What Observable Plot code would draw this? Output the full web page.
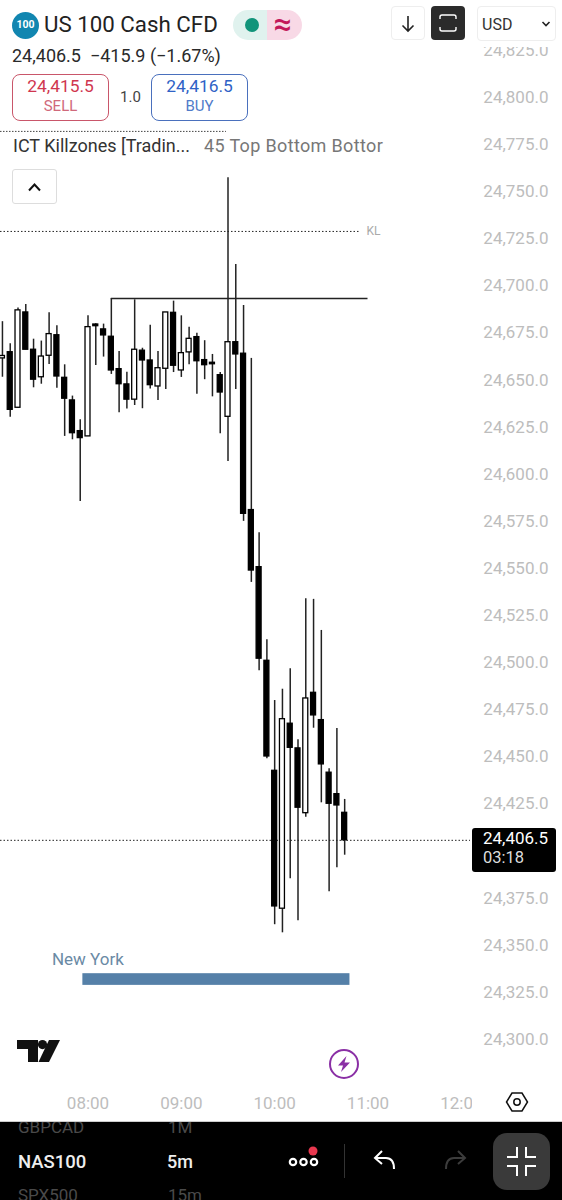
<!DOCTYPE html>
<html>
<head>
<meta charset="utf-8">
<script src="https://cdn.jsdelivr.net/npm/d3@7"></script>
<script src="https://cdn.jsdelivr.net/npm/@observablehq/plot@0.6"></script>
<style>
html,body{margin:0;padding:0;background:#fff}
#page{position:relative;width:562px;height:1200px;overflow:hidden;font-family:Roboto,sans-serif;background:#fff}
#chart{position:absolute;left:0;top:0;width:562px;height:1200px}
#chart svg{display:block}
.a{position:absolute;white-space:nowrap;line-height:1}
.box{position:absolute;box-sizing:border-box}
.c{text-align:center}
</style>
</head>
<body>
<div id="page">
<div id="chart"></div>

<!-- header -->
<div class="box" style="left:0;top:0;width:562px;height:47px;background:#fff"></div>
<div class="box" style="left:12px;top:12px;width:27px;height:27px;border-radius:50%;background:#1186b0"></div>
<div class="a c" style="left:12px;top:20px;width:27px;color:#fff;font-size:10.5px;font-weight:700">100</div>
<div class="a" style="left:44px;top:13px;font-size:22.3px;color:#222">US 100 Cash CFD</div>
<div class="box" style="left:233px;top:10px;width:34px;height:30px;background:#e0f2ee;border-radius:15px 0 0 15px"></div>
<div class="box" style="left:267px;top:10px;width:35px;height:30px;background:#f8d9e6;border-radius:0 15px 15px 0"></div>
<div class="box" style="left:245px;top:18px;width:14px;height:14px;border-radius:50%;background:#11947a"></div>
<div class="a c" style="left:267px;top:8px;width:32px;font-size:32px;color:#c2185b;font-weight:500">≈</div>
<div class="box" style="left:391px;top:6px;width:34px;height:34px;border:1px solid #eee;border-radius:4px"></div>
<svg class="box" style="left:391px;top:6px" width="34" height="34" fill="none" stroke="#222" stroke-width="1.6"><path d="M17 10V25M11.5 19.5L17 25L22.5 19.5"/></svg>
<div class="box" style="left:431px;top:6px;width:34px;height:34px;background:#2b2b2b;border-radius:4px"></div>
<svg class="box" style="left:431px;top:6px" width="34" height="34" fill="none" stroke="#fff" stroke-width="1.4"><path d="M9 13V11Q9 9 11 9H23Q25 9 25 11V13M9 21V23Q9 25 11 25H23Q25 25 25 23V21"/></svg>
<div class="box" style="left:477px;top:6px;width:79px;height:35px;border:1px solid #eee;border-radius:4px"></div>
<div class="a" style="left:482px;top:17px;font-size:16px;color:#333">USD</div>
<svg class="box" style="left:540px;top:20px" width="12" height="8" fill="none" stroke="#222" stroke-width="1.6"><path d="M2.5 2L6 5.5L9.5 2"/></svg>
<div class="a" style="left:12px;top:47px;font-size:18px;color:#2a2a2a">24,406.5&nbsp; −415.9 (−1.67%)</div>

<div class="box" style="left:12px;top:74px;width:97px;height:47px;border:1px solid #c9566a;border-radius:8px"></div>
<div class="a c" style="left:12px;top:78px;width:97px;font-size:17.4px;color:#d0364f">24,415.5</div>
<div class="a c" style="left:12px;top:99px;width:97px;font-size:15px;color:#d0697b">SELL</div>
<div class="a" style="left:120px;top:90px;font-size:15px;color:#444">1.0</div>
<div class="box" style="left:151px;top:74px;width:97px;height:47px;border:1px solid #4a70bd;border-radius:8px"></div>
<div class="a c" style="left:151px;top:78px;width:97px;font-size:17.4px;color:#2f62c6">24,416.5</div>
<div class="a c" style="left:151px;top:99px;width:97px;font-size:15px;color:#4f7bc9">BUY</div>

<div class="a" style="left:13px;top:137px;font-size:18px;color:#333">ICT Killzones [Tradin...</div>
<div class="a" style="left:204px;top:137px;font-size:18px;color:#777;letter-spacing:.35px">45 Top Bottom Bottor</div>
<div class="box" style="left:12px;top:169px;width:45px;height:35px;background:#fff;border:1px solid #ddd;border-radius:3px"></div>
<svg class="box" style="left:12px;top:169px" width="45" height="35" fill="none" stroke="#111" stroke-width="2"><path d="M27 21.5L21.5 15.5L16 21.5" transform="translate(1,0)"/></svg>

<!-- last price label -->
<div class="box" style="left:472px;top:828px;width:84px;height:44px;background:#000;border-radius:3px"></div>
<div class="a" style="left:483px;top:830px;font-size:17px;color:#fff">24,406.5</div>
<div class="a" style="left:483px;top:850px;font-size:16.5px;color:#ddd">03:18</div>

<!-- logo + bolt -->
<svg class="box" style="left:17px;top:1040px" width="44" height="22" fill="#111"><path d="M0 0H21V22H11V9H0Z"/><circle cx="25.5" cy="4.6" r="4.6"/><path d="M32 0H43L32 22H21.5Z"/></svg>
<svg class="box" style="left:328px;top:1048px" width="32" height="32" fill="none"><circle cx="16" cy="16" r="14" stroke="#8a2fa5" stroke-width="2"/><path d="M18.5 8L10 17.5H15L13 24L22 14.5H16.5Z" fill="#8a2fa5"/></svg>

<!-- axis corner -->
<div class="box" style="left:472px;top:1085px;width:90px;height:36px;background:#fff"></div>
<svg class="box" style="left:505px;top:1091px" width="24" height="22" fill="none" stroke="#111" stroke-width="1.5"><path d="M7 2H17L22.5 11L17 20H7L1.5 11Z"/><circle cx="12" cy="11" r="3.2"/></svg>

<!-- bottom bar -->
<div class="box" style="left:0;top:1121px;width:562px;height:79px;background:#000;overflow:hidden;border-top:1px solid #ccc">
  <div class="a" style="left:18px;top:-3px;font-size:17px;color:#4a4a4a">GBPCAD</div>
  <div class="a" style="left:168px;top:-3px;font-size:17px;color:#4a4a4a">1M</div>
  <div class="a" style="left:18px;top:31px;font-size:18.5px;color:#eee;font-weight:500">NAS100</div>
  <div class="a" style="left:167px;top:31px;font-size:18px;color:#eee;font-weight:500">5m</div>
  <div class="a" style="left:18px;top:65px;font-size:17px;color:#4a4a4a">SPX500</div>
  <div class="a" style="left:168px;top:65px;font-size:17px;color:#4a4a4a">15m</div>
  <svg class="box" style="left:285px;top:20px" width="40" height="30" fill="none" stroke="#fff" stroke-width="2.2"><circle cx="8" cy="20" r="3.2"/><circle cx="18.5" cy="20" r="3.2"/><circle cx="29" cy="20" r="3.2"/><circle cx="28" cy="9" r="4.5" fill="#e8384f" stroke="none"/></svg>
  <div class="box" style="left:344px;top:22px;width:1px;height:34px;background:#333"></div>
  <svg class="box" style="left:372px;top:26px" width="26" height="26" fill="none" stroke="#fff" stroke-width="2"><path d="M10 3L3 10L10 16M3 10H14Q22 10 22 21"/></svg>
  <svg class="box" style="left:442px;top:26px" width="26" height="26" fill="none" stroke="#3c3c3c" stroke-width="2"><path d="M16 3L23 10L16 16M23 10H12Q4 10 4 21"/></svg>
  <div class="box" style="left:493px;top:11px;width:57px;height:57px;background:#3a3a3a;border-radius:14px"></div>
  <svg class="box" style="left:493px;top:11px" width="57" height="57" fill="none" stroke="#fff" stroke-width="2"><path d="M14 24H24V14M33 14V24H43M14 33H24V43M33 43V33H43"/></svg>
</div>
</div>

<script>
const times = [425,430,435,440,445,450,455,460,465,470,475,480,485,490,495,500,505,510,515,520,525,530,535,540,545,550,555,560,565,570,575,580,585,590,595,600,605,610,615,620,625,630,635,640,645];
const opens = [24662.3,24665.6,24636.1,24686.7,24666.9,24652.3,24663.7,24674.6,24652.0,24640.0,24623.7,24620.9,24680.3,24677.7,24673.8,24656.6,24648.5,24640.4,24666.4,24661.2,24647.4,24656.8,24686.5,24655.9,24665.5,24673.6,24661.4,24660.0,24653.4,24631.3,24670.9,24664.8,24581.8,24551.5,24501.8,24443.4,24370.2,24468.4,24455.3,24420.9,24484.8,24470.3,24442.4,24431.0,24421.1];
const closes = [24663.6,24635.0,24687.8,24666.9,24651.0,24663.3,24675.2,24652.7,24640.9,24622.6,24620.0,24678.9,24679.4,24674.5,24655.9,24648.6,24640.4,24666.9,24661.2,24648.1,24657.1,24686.7,24658.4,24665.1,24672.7,24660.8,24658.7,24659.2,24644.2,24670.9,24664.4,24579.8,24549.7,24502.9,24451.0,24371.4,24470.8,24455.6,24423.8,24481.8,24472.8,24446.8,24425.9,24425.0,24406.5];
const highs = [24681.8,24670.1,24689.0,24690.9,24672.5,24671.5,24686.5,24679.6,24658.9,24642.3,24629.7,24684.9,24680.7,24680.5,24694.1,24666.0,24655.0,24693.4,24667.7,24679.9,24666.0,24686.7,24692.7,24684.9,24678.9,24675.7,24671.7,24664.4,24654.8,24758.2,24712.2,24690.4,24662.3,24569.8,24513.0,24480.7,24486.7,24497.6,24459.9,24534.7,24534.4,24517.9,24444.5,24465.9,24428.2];
const lows = [24652.3,24631.1,24635.9,24666.9,24646.7,24648.6,24659.1,24646.4,24620.9,24619.1,24586.4,24620.9,24658.6,24663.0,24653.8,24633.5,24635.4,24637.3,24635.6,24646.0,24640.0,24645.8,24654.8,24652.2,24658.9,24643.3,24651.0,24641.9,24622.3,24607.6,24645.8,24575.8,24543.4,24496.5,24449.8,24361.7,24357.4,24386.1,24363.8,24418.8,24466.0,24426.4,24379.2,24391.9,24398.6];

const priceTicks = [24825,24800,24775,24750,24725,24700,24675,24650,24625,24600,24575,24550,24525,24500,24475,24450,24425,24375,24350,24325,24300];
const timeTicks = [480,540,600,660,720];
const timeLabels = ["08:00","09:00","10:00","11:00","12:00"];

const lastPrice = 24406.5;
const keyLevel = 24729.7;
const keyLevelLabel = "KL";
const keyLevelEnd = 655.2;
const keyLabelTime = 659;
const topDotted = {price: 24782.8, from: 423.75, to: 569};
const swingHigh = {price: 24694.1, from: 495, to: 660};
const session = {name: "New York", from: 476.7, to: 648.4, low: 24329.5, high: 24335.7, labelTime: 456.8, labelPrice: 24343.2};

const candles = times.map((t,i)=>({t, o:opens[i], c:closes[i], h:highs[i], l:lows[i]}));
const halfBody = 1.6;

const chart = Plot.plot({
  width: 562,
  height: 1200,
  marginTop: 0,
  marginLeft: 0,
  marginRight: 92,
  marginBottom: 110,
  style: {fontFamily: "Roboto, sans-serif", background: "transparent"},
  x: {type: "linear", domain: [423.75, 725.89], axis: null},
  y: {type: "linear", domain: [24273.7, 24852.28], axis: null},
  marks: [
    Plot.axisY({anchor: "right", ticks: priceTicks, tickSize: 0, tickPadding: 78, textAnchor: "end",
      tickFormat: d3.format(",.1f"), fontSize: 17, fill: "#bdbdbd", dy: -1.5, label: null}),
    Plot.axisX({anchor: "bottom", ticks: timeTicks, tickSize: 0, tickPadding: 6,
      tickFormat: (d)=>timeLabels[timeTicks.indexOf(d)], fontSize: 17, fill: "#bdbdbd", label: null}),

    Plot.ruleY([topDotted], {y:"price", x1:"from", x2:"to", stroke:"#444", strokeWidth:1, strokeDasharray:"1.5 1.5"}),
    Plot.ruleY([keyLevel], {x1:423.75, x2:keyLevelEnd, stroke:"#222", strokeWidth:1, strokeDasharray:"1.5 2"}),
    Plot.text([keyLevelLabel], {x:[keyLabelTime], y:[keyLevel], text:d=>d, textAnchor:"start", fill:"#aaa", fontSize:12}),
    Plot.ruleY([lastPrice], {x1:423.75, x2:725.89, stroke:"#222", strokeWidth:1, strokeDasharray:"1.5 2"}),

    Plot.ruleX(candles, {x:"t", y1:"l", y2:"h", stroke:"#222", strokeWidth:1.5}),
    Plot.rect(candles, {x1:d=>d.t-halfBody, x2:d=>d.t+halfBody, y1:"o", y2:"c",
      fill:d=>d.c>=d.o?"#fff":"#000", stroke:"#000", strokeWidth:1.3}),

    Plot.ruleY([swingHigh], {y:"price", x1:"from", x2:"to", stroke:"#222", strokeWidth:1.5}),

    Plot.rect([session], {x1:"from", x2:"to", y1:"low", y2:"high", fill:"#5580a8"}),
    Plot.text([session], {x:"labelTime", y:"labelPrice", text:"name", textAnchor:"start", fill:"#6a8aa5", fontSize:17})
  ]
});
document.getElementById("chart").appendChild(chart);
</script>
</body>
</html>
